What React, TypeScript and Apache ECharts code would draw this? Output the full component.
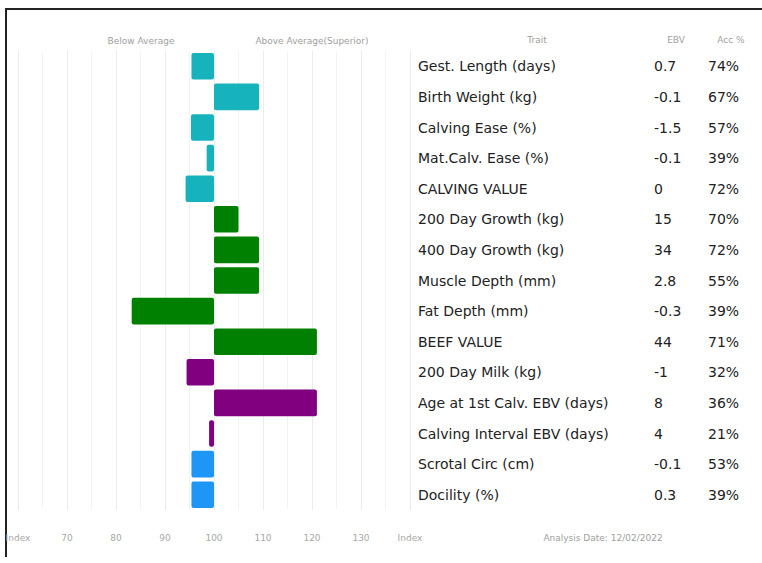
import React, { useEffect, useRef } from "react";
import * as echarts from "echarts";

const traits = [
  "Gest. Length (days)",
  "Birth Weight (kg)",
  "Calving Ease (%)",
  "Mat.Calv. Ease (%)",
  "CALVING VALUE",
  "200 Day Growth (kg)",
  "400 Day Growth (kg)",
  "Muscle Depth (mm)",
  "Fat Depth (mm)",
  "BEEF VALUE",
  "200 Day Milk (kg)",
  "Age at 1st Calv. EBV (days)",
  "Calving Interval EBV (days)",
  "Scrotal Circ (cm)",
  "Docility (%)",
];
const indexValues = [95.4, 109.2, 95.3, 98.5, 94.2, 105, 109.2, 109.2, 83.2, 121, 94.4, 121, 99, 95.4, 95.4];
const ebvs = ["0.7", "-0.1", "-1.5", "-0.1", "0", "15", "34", "2.8", "-0.3", "44", "-1", "8", "4", "-0.1", "0.3"];
const accs = ["74%", "67%", "57%", "39%", "72%", "70%", "72%", "55%", "39%", "71%", "32%", "36%", "21%", "53%", "39%"];
const groups = [
  "calving", "calving", "calving", "calving", "calving",
  "growth", "growth", "growth", "growth", "growth",
  "fertility", "fertility", "fertility",
  "other", "other",
];
const groupColors: Record<string, string> = {
  calving: "#17b3bd",
  growth: "#008000",
  fertility: "#800080",
  other: "#1e96f5",
};
const BASE = 100;
const axisTicks = [60, 70, 80, 90, 100, 110, 120, 130, 140];
const analysisDate = "Analysis Date: 12/02/2022";

const FONT = "DejaVu Sans";

export default function App() {
  const ref = useRef<HTMLDivElement>(null);
  useEffect(() => {
    if (!ref.current) return;
    const chart = echarts.init(ref.current, null, { renderer: "svg" });
    const minV = axisTicks[0] - BASE;
    const maxV = axisTicks[axisTicks.length - 1] - BASE;
    chart.setOption({
      animation: false,
      backgroundColor: "#ffffff",
      grid: { left: 18, right: 352, top: 51, bottom: 53, containLabel: false },
      xAxis: {
        type: "value",
        min: minV,
        max: maxV,
        interval: 10,
        axisLine: { show: false },
        axisTick: { show: false },
        axisLabel: {
          margin: 23,
          color: "#a8a8a8",
          fontSize: 9,
          fontFamily: FONT,
          formatter: (v: number) =>
            v === minV || v === maxV ? "Index" : String(v + BASE),
        },
        splitLine: { show: true, lineStyle: { color: "#ececec", width: 1 } },
        minorTick: { show: false, splitNumber: 2 },
        minorSplitLine: { show: true, lineStyle: { color: "#f3f3f3", width: 1 } },
      },
      yAxis: {
        type: "category",
        inverse: true,
        position: "right",
        data: traits,
        axisLine: { show: false },
        axisTick: { show: false },
        splitLine: { show: false },
        axisLabel: {
          margin: 8,
          align: "left",
          formatter: (v: string, i: number) => `{n|${v}}{e|${ebvs[i]}}{a|${accs[i]}}`,
          rich: {
            n: { width: 236, fontSize: 14, fontFamily: FONT, color: "#222" },
            e: { width: 54, fontSize: 14, fontFamily: FONT, color: "#222" },
            a: { fontSize: 14, fontFamily: FONT, color: "#222" },
          },
        },
      },
      series: [
        {
          type: "bar",
          barCategoryGap: "13%",
          data: indexValues.map((v, i) => ({
            value: +(v - BASE).toFixed(2),
            itemStyle: { color: groupColors[groups[i]], borderRadius: 2 },
          })),
        },
      ],
      graphic: [
        { type: "line", shape: { x1: 5, y1: 9, x2: 762, y2: 9 }, style: { stroke: "#222", lineWidth: 2 } },
        { type: "line", shape: { x1: 6, y1: 8, x2: 6, y2: 557 }, style: { stroke: "#222", lineWidth: 2 } },
        { type: "text", x: 141, y: 41, style: { text: "Below Average", fontSize: 9, fontFamily: FONT, fill: "#a0a0a0", align: "center", verticalAlign: "middle" } },
        { type: "text", x: 312, y: 41, style: { text: "Above Average(Superior)", fontSize: 9, fontFamily: FONT, fill: "#a0a0a0", align: "center", verticalAlign: "middle" } },
        { type: "text", x: 537, y: 40, style: { text: "Trait", fontSize: 9, fontFamily: FONT, fill: "#a0a0a0", align: "center", verticalAlign: "middle" } },
        { type: "text", x: 676, y: 40, style: { text: "EBV", fontSize: 9, fontFamily: FONT, fill: "#a0a0a0", align: "center", verticalAlign: "middle" } },
        { type: "text", x: 731, y: 40, style: { text: "Acc %", fontSize: 9, fontFamily: FONT, fill: "#a0a0a0", align: "center", verticalAlign: "middle" } },
        { type: "text", x: 603, y: 538, style: { text: analysisDate, fontSize: 9, fontFamily: FONT, fill: "#a0a0a0", align: "center", verticalAlign: "middle" } },
      ],
    });
    return () => chart.dispose();
  }, []);
  return (
    <div
      ref={ref}
      style={{ position: "fixed", left: 0, top: 0, width: 762, height: 563, background: "#fff" }}
    />
  );
}
